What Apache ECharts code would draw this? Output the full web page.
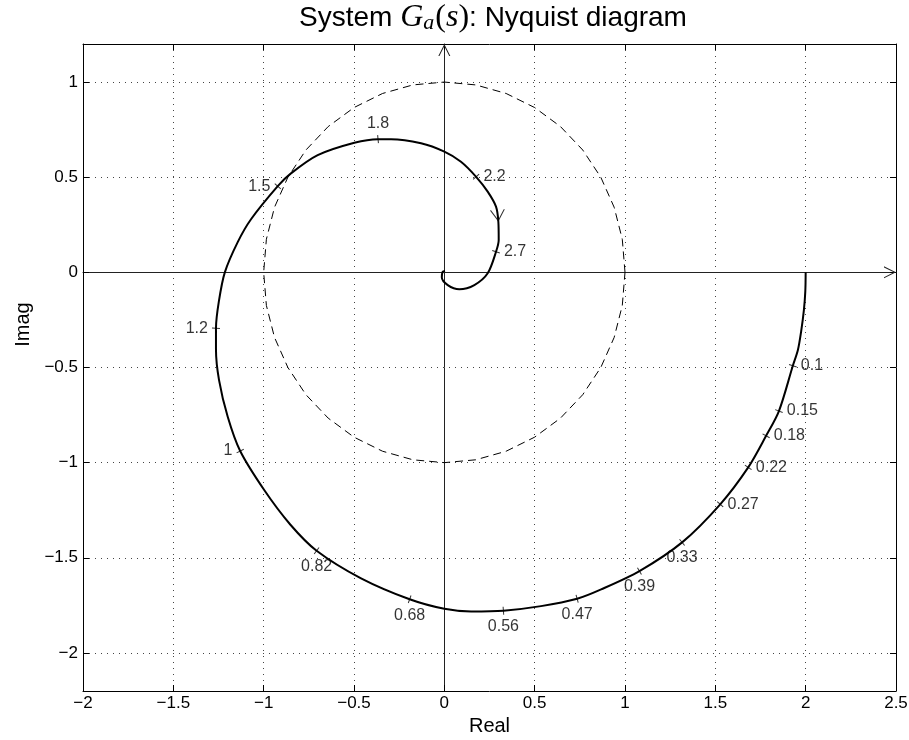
<!DOCTYPE html>
<html>
<head>
<meta charset="utf-8">
<script src="https://cdn.jsdelivr.net/npm/echarts@6/dist/echarts.min.js"></script>
<style>
  html, body { margin: 0; padding: 0; background: #fff; }
  #chart { width: 909px; height: 740px; }
</style>
</head>
<body>
<div id="chart"></div>
<script>
// Nyquist curve in order of increasing frequency
const curveRe = [2.0, 1.998, 1.990, 1.975, 1.957, 1.929, 1.852, 1.781, 1.682, 1.527, 1.316, 1.080, 0.868, 0.735, 0.535, 0.327, 0.148, 0.0,
  -0.192, -0.461, -0.707, -0.853, -0.997, -1.130, -1.199, -1.247, -1.264, -1.264, -1.248, -1.215, -1.143, -1.070, -0.922,
  -0.849, -0.701, -0.498, -0.367, -0.295, -0.129, 0.0, 0.092, 0.176, 0.240, 0.286, 0.299, 0.301, 0.286, 0.240, 0.166,
  0.083, 0.019, -0.014, -0.009, 0.004]
const curveIm = [0, -0.100, -0.200, -0.310, -0.408, -0.491, -0.729, -0.859, -1.025, -1.219, -1.419, -1.570, -1.666, -1.715, -1.754, -1.778, -1.782, -1.768,
  -1.718, -1.608, -1.463, -1.325, -1.144, -0.939, -0.759, -0.566, -0.405, -0.294, -0.153, 0, 0.160, 0.279, 0.453,
  0.520, 0.616, 0.681, 0.700, 0.700, 0.678, 0.634, 0.581, 0.502, 0.424, 0.345, 0.266, 0.170, 0.108, -0.005, -0.067,
  -0.089, -0.067, -0.026, 0.003, 0.007]

// frequency markers on the curve
const markFreq = ['0.1', '0.15', '0.18', '0.22', '0.27', '0.33', '0.39', '0.47', '0.56', '0.68', '0.82', '1', '1.2', '1.5', '1.8', '2.2', '2.7']
const markRe = [1.929, 1.852, 1.781, 1.682, 1.527, 1.316, 1.080, 0.735, 0.327, -0.192, -0.707, -1.130, -1.264, -0.922, -0.367, 0.176, 0.286]
const markIm = [-0.491, -0.729, -0.859, -1.025, -1.219, -1.419, -1.570, -1.715, -1.778, -1.718, -1.463, -0.939, -0.294, 0.453, 0.700, 0.502, 0.108]

// unit circle (dashed)
const circleRe = [1, 0.985, 0.940, 0.866, 0.766, 0.643, 0.5, 0.342, 0.174, 0, -0.174, -0.342, -0.5, -0.643, -0.766, -0.866, -0.940, -0.985,
  -1, -0.985, -0.940, -0.866, -0.766, -0.643, -0.5, -0.342, -0.174, 0, 0.174, 0.342, 0.5, 0.643, 0.766, 0.866, 0.940, 0.985, 1]
const circleIm = [0, 0.174, 0.342, 0.5, 0.643, 0.766, 0.866, 0.940, 0.985, 1, 0.985, 0.940, 0.866, 0.766, 0.643, 0.5, 0.342, 0.174,
  0, -0.174, -0.342, -0.5, -0.643, -0.766, -0.866, -0.940, -0.985, -1, -0.985, -0.940, -0.866, -0.766, -0.643, -0.5, -0.342, -0.174, 0]

// direction arrow tip
const arrowRe = [0.299]
const arrowIm = [0.266]

// axis ranges
const xRange = [-2, 2.5]
const yRange = [-2.2, 1.2]
const xStep = 0.5

// where each frequency label sits relative to its tick
const markSide = ['right', 'right', 'right', 'right', 'right', 'bottom', 'bottom', 'bottom', 'bottom', 'bottom', 'bottom',
  'left', 'left', 'left', 'top', 'right', 'right']

const FONT = 'Liberation Sans'
const SERIF = 'Liberation Serif'
// open chevrons drawn as thin filled outlines
const CHEVRON_UP = 'path://M0,12L6,0L12,12L10.88,12L6,2.24L1.12,12Z'
const CHEVRON_DOWN = 'path://M0,0L7.5,12L15,0L13.82,0L7.5,10.11L1.18,0Z'

const pairs = (xs, ys) => xs.map((x, i) => [x, ys[i]])
const curveData = pairs(curveRe, curveIm)

function tickLabel(v) {
  if (Math.abs(v / 0.5 - Math.round(v / 0.5)) > 1e-6) return ''
  return String(v).replace('-', '\u2212')
}

const frameLine = { onZero: false, lineStyle: { color: '#000', width: 1 } }
const innerTick = { inside: true, length: 6, lineStyle: { color: '#000', width: 1 } }
const dotted = { show: true, lineStyle: { color: '#444', width: 1, type: [1, 5] } }
const tickFont = { fontFamily: FONT, fontSize: 17, color: '#000' }
const markFont = { fontFamily: FONT, fontSize: 16, color: '#000' }

const chart = echarts.init(document.getElementById('chart'))

const option = {
  animation: false,
  backgroundColor: '#fff',
  title: {
    text: '{t|System }{m|G}{s|a}{p|(}{m|s}{p|)}{t|: Nyquist diagram}',
    left: 488,
    top: -4,
    textAlign: 'center',
    textStyle: {
      fontWeight: 'normal',
      rich: {
        t: { fontFamily: FONT, fontSize: 28, fontWeight: 'normal', color: '#000', lineHeight: 34, verticalAlign: 'middle' },
        m: { fontFamily: SERIF, fontStyle: 'italic', fontWeight: 'normal', fontSize: 32, color: '#000', lineHeight: 34, verticalAlign: 'middle' },
        p: { fontFamily: SERIF, fontWeight: 'normal', fontSize: 32, color: '#000', lineHeight: 34, verticalAlign: 'middle' },
        s: { fontFamily: SERIF, fontStyle: 'italic', fontWeight: 'normal', fontSize: 22, color: '#000', lineHeight: 22, padding: [10, 1, 0, 0], verticalAlign: 'middle' },
      },
    },
  },
  grid: { left: 83, right: 13, top: 44, bottom: 49, containLabel: false, outerBoundsMode: 'none' },
  xAxis: [
    {
      type: 'value', min: xRange[0], max: xRange[1], interval: xStep, position: 'bottom',
      axisLine: frameLine, axisTick: innerTick, splitLine: dotted,
      axisLabel: { ...tickFont, margin: 4, formatter: tickLabel },
      name: 'Real', nameLocation: 'middle', nameGap: 25,
      nameTextStyle: { fontFamily: FONT, fontSize: 20, color: '#000' },
    },
    {
      type: 'value', min: xRange[0], max: xRange[1], interval: xStep, position: 'top',
      axisLine: frameLine, axisTick: innerTick, splitLine: { show: false }, axisLabel: { show: false },
    },
    {
      // real axis through the origin
      type: 'value', min: xRange[0], max: xRange[1], position: 'bottom',
      axisLine: { show: true, onZero: true, symbol: ['none', CHEVRON_UP], symbolSize: [12, 12], symbolOffset: [0, -6],
        lineStyle: { color: '#222', width: 1 } },
      axisTick: { show: false }, axisLabel: { show: false }, splitLine: { show: false },
    },
  ],
  yAxis: [
    {
      type: 'value', min: yRange[0], max: yRange[1], splitNumber: 7, position: 'left',
      axisLine: frameLine, axisTick: innerTick, splitLine: dotted,
      axisLabel: { ...tickFont, margin: 5, formatter: tickLabel },
      name: 'Imag', nameLocation: 'middle', nameGap: 48,
      nameTextStyle: { fontFamily: FONT, fontSize: 20, color: '#000', padding: [0, 0, 0, 86] },
    },
    {
      type: 'value', min: yRange[0], max: yRange[1], splitNumber: 7, position: 'right',
      axisLine: frameLine, axisTick: innerTick, splitLine: { show: false }, axisLabel: { show: false },
    },
    {
      // imaginary axis through the origin
      type: 'value', min: yRange[0], max: yRange[1], position: 'left',
      axisLine: { show: true, onZero: true, symbol: ['none', CHEVRON_UP], symbolSize: [12, 12], symbolOffset: [0, -6],
        lineStyle: { color: '#222', width: 1 } },
      axisTick: { show: false }, axisLabel: { show: false }, splitLine: { show: false },
    },
  ],
  series: [
    {
      name: 'unit circle', type: 'line', data: pairs(circleRe, circleIm),
      showSymbol: false, silent: true,
      lineStyle: { color: '#000', width: 1, type: [8, 5] },
    },
    {
      name: 'G', type: 'line', data: curveData, smooth: 0.3,
      showSymbol: false, silent: true,
      lineStyle: { color: '#000', width: 2 },
    },
    {
      name: 'freq', type: 'scatter', silent: true,
      symbol: 'rect', symbolSize: [1, 8],
      itemStyle: { color: '#000' },
      label: { show: true, formatter: p => p.name, distance: 4, ...markFont },
      data: markFreq.map((f, i) => ({ name: f, value: [markRe[i], markIm[i]], label: { position: markSide[i] } })),
    },
    {
      name: 'arrow', type: 'scatter', silent: true,
      symbol: CHEVRON_DOWN, symbolSize: [15, 12],
      itemStyle: { color: '#000' },
      data: pairs(arrowRe, arrowIm),
    },
  ],
}

chart.setOption(option)

// orient ticks and arrow along the drawn curve (screen space)
const curvePx = curveData.map(p => chart.convertToPixel({ seriesIndex: 1 }, p))
function tangentDeg(re, im) {
  let best = 0, bd = Infinity
  curveData.forEach((p, i) => {
    const d = (p[0] - re) ** 2 + (p[1] - im) ** 2
    if (d < bd) { bd = d; best = i }
  })
  const a = curvePx[Math.max(best - 1, 0)]
  const b = curvePx[Math.min(best + 1, curvePx.length - 1)]
  return Math.atan2(-(b[1] - a[1]), b[0] - a[0]) * 180 / Math.PI
}

const arrowDeg = tangentDeg(arrowRe[0], arrowIm[0])
const arrowRad = arrowDeg * Math.PI / 180
chart.setOption({
  series: [
    {},
    {},
    {
      data: markFreq.map((f, i) => ({
        name: f,
        value: [markRe[i], markIm[i]],
        symbolRotate: tangentDeg(markRe[i], markIm[i]),
        label: { position: markSide[i] },
      })),
    },
    {
      data: arrowRe.map((re, i) => ({
        value: [re, arrowIm[i]],
        symbolRotate: arrowDeg + 90,
        symbolOffset: [-6 * Math.cos(arrowRad), 6 * Math.sin(arrowRad)],
      })),
    },
  ],
})
</script>
</body>
</html>
